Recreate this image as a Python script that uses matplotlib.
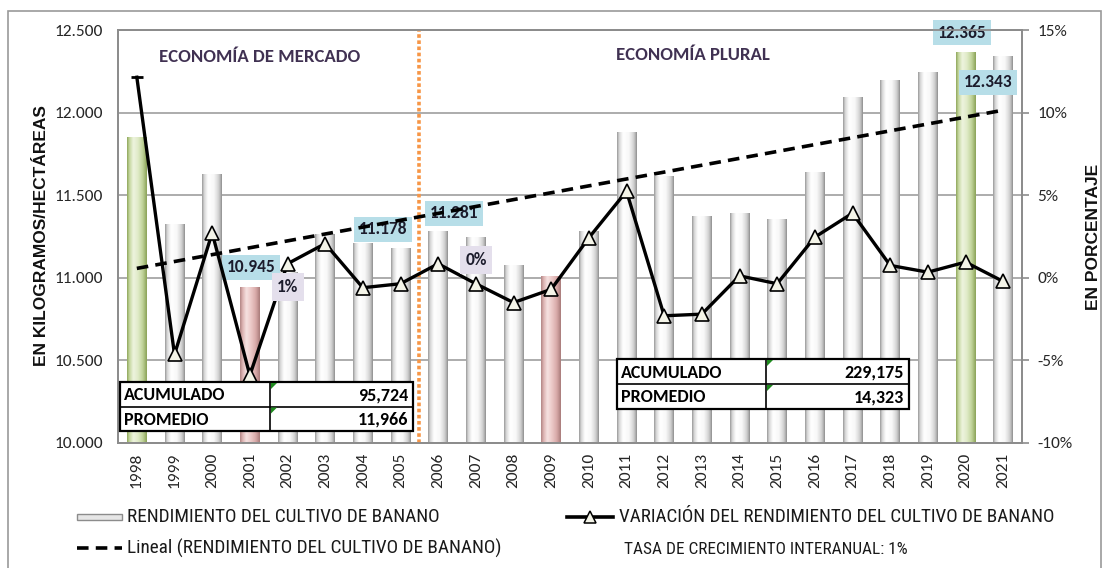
import numpy as np
import matplotlib
matplotlib.use("Agg")
import matplotlib.pyplot as plt
from matplotlib import font_manager as fm
from matplotlib.patches import Rectangle, Polygon
from matplotlib.lines import Line2D
from matplotlib.colors import LinearSegmentedColormap
from matplotlib.ticker import FuncFormatter

# ---------------- data ----------------
years = [str(y) for y in range(1998, 2022)]
rendimiento = [11852, 11323, 11629, 10945, 11038, 11266, 11210, 11178,
               11281, 11245, 11079, 11008, 11286, 11881, 11619, 11377,
               11395, 11353, 11639, 12097, 12200, 12248, 12365, 12343]
variacion = [12.14, -4.64, 2.72, -5.90, 0.85, 2.07, -0.60, -0.36,
             0.85, -0.36, -1.50, -0.70, 2.42, 5.24, -2.30, -2.20,
             0.12, -0.36, 2.46, 3.91, 0.75, 0.34, 0.95, -0.22]
green_years = ["1998", "2020"]
red_years = ["2001", "2009"]
value_labels = ["10.945", "11.178", "11.281", "12.365", "12.343"]
pct_labels = ["1%", "0%"]
periodos = ["ECONOMÍA DE MERCADO", "ECONOMÍA PLURAL"]
tabla_mercado = [("ACUMULADO", "95,724"), ("PROMEDIO", "11,966")]
tabla_plural = [("ACUMULADO", "229,175"), ("PROMEDIO", "14,323")]
left_ticks = [10000, 10500, 11000, 11500, 12000, 12500]
right_ticks = [-10, -5, 0, 5, 10, 15]
legend_labels = ["RENDIMIENTO DEL CULTIVO DE BANANO",
                 "VARIACIÓN DEL RENDIMIENTO DEL CULTIVO DE BANANO",
                 "Lineal (RENDIMIENTO DEL CULTIVO DE BANANO)"]
tasa_text = "TASA DE CRECIMIENTO INTERANUAL: 1%"
y_label_left = "EN KILOGRAMOS/HECTÁREAS"
y_label_right = "EN PORCENTAJE"

# ---------------- fonts ----------------
names = {f.name for f in fm.fontManager.ttflist}
MAIN = "Carlito" if "Carlito" in names else "Lato"
NARROW = next((n for n in ["Liberation Sans Narrow", "Roboto Condensed",
                           "Open Sans Condensed"] if n in names), MAIN)
plt.rcParams["font.family"] = [MAIN, "DejaVu Sans"]

W, H = 1105, 568
fig = plt.figure(figsize=(W / 100, H / 100), dpi=100)


def fx(px):
    return px / W


def fy(py):
    return 1 - py / H


# outer frame
fig.add_artist(Rectangle((fx(8), fy(575)), fx(1101) - fx(8), fy(11) - fy(575),
                         transform=fig.transFigure, fill=False,
                         ec="#9a9a9a", lw=1.2))

ax = fig.add_axes([fx(118), fy(443), fx(1022) - fx(118), fy(30) - fy(443)])
ax2 = ax.twinx()

x = np.arange(len(years))
bw = 0.53
ymin, ymax = 10000, 12500

cm_white = LinearSegmentedColormap.from_list(
    "w", [(0, "#969696"), (0.1, "#d6d6d6"), (0.3, "#ffffff"),
          (0.6, "#f8f8f8"), (0.82, "#d6d6d6"), (0.93, "#b4b4b4"), (1, "#8a8a8a")])
cm_green = LinearSegmentedColormap.from_list(
    "g", [(0, "#8ea65a"), (0.12, "#c6d8a0"), (0.32, "#eef4df"),
          (0.55, "#e0ebc8"), (0.8, "#bfd298"), (1, "#8aa257")])
cm_red = LinearSegmentedColormap.from_list(
    "r", [(0, "#b08483"), (0.12, "#dcb2b1"), (0.32, "#f6e2e1"),
          (0.55, "#ecc9c8"), (0.8, "#d8a9a8"), (1, "#a87b7a")])
grad = np.linspace(0, 1, 64).reshape(1, -1)

bars = ax.bar(x, rendimiento, width=bw, color="none", edgecolor="none", zorder=2)
for xi, yr, b in zip(x, years, bars):
    cm = cm_green if yr in green_years else cm_red if yr in red_years else cm_white
    top = b.get_height()
    im = ax.imshow(grad, cmap=cm, aspect="auto", interpolation="bicubic",
                   extent=(xi - bw / 2, xi + bw / 2, ymin, top), zorder=2)
    im.set_clip_path(b)

ax.set_xlim(-0.5, len(years) - 0.5)
ax.set_ylim(ymin, ymax)
ax2.set_ylim(-10, 15)
ax.set_yticks(left_ticks)
ax2.set_yticks(right_ticks)
ax.yaxis.set_major_formatter(FuncFormatter(lambda v, p: f"{int(v):,}".replace(",", ".")))
ax2.yaxis.set_major_formatter(FuncFormatter(lambda v, p: f"{int(v)}%"))
ax.set_xticks(x)
ax.set_xticklabels(years, rotation=90, fontsize=12.5, color="#262626")
ax.tick_params(axis="x", length=0, pad=7)
ax.tick_params(axis="y", length=0, pad=11, labelsize=12.5, labelcolor="#262626")
ax2.tick_params(axis="y", length=5, width=1.2, color="#8c8c8c", pad=6,
                labelsize=12.5, labelcolor="#262626")
ax.grid(axis="y", color="#a6a6a6", lw=1.3)
ax.set_axisbelow(True)
for a in (ax, ax2):
    for s in a.spines.values():
        s.set_color("#8c8c8c")
        s.set_linewidth(1.3)

# period divider
ax.axvline(7.5, color="#f79646", lw=2.6, ls=(0, (1, 0.7)), zorder=3)

# value label boxes (on ax, below trend)
val_pos = [(3.03, 11065), (6.53, 11295), (8.42, 11392), (21.9, 12482), (22.6, 12185)]
for s, (xp, yp) in zip(value_labels, val_pos):
    ax.text(xp, yp, s, ha="center", va="center", fontsize=12.5, fontweight="bold",
            color="#1c1c2c", zorder=4, clip_on=False,
            bbox=dict(boxstyle="square,pad=0.26", fc="#b7dee8", ec="none"))

# trend line
coef = np.polyfit(x, rendimiento, 1)
ax.plot(x, np.polyval(coef, x), color="black", lw=2.6, dashes=(3.2, 2.0),
        zorder=5)

# period titles
for s, (xp, yp) in zip(periodos, [(3.27, 12337), (14.76, 12349)]):
    ax.text(xp, yp, s, ha="center", va="center", fontsize=13.5,
            fontweight="bold", color="#403152", zorder=6)

# variation line
ax2.plot(x, variacion, color="black", lw=2.4, zorder=5)
ax2.plot(x[1:], variacion[1:], ls="none", marker="^", ms=10,
         mfc="#f4f4e8", mec="black", mew=1.2, zorder=6)
ax2.plot(x[0], variacion[0], ls="none", marker="_", ms=9, mew=2,
         color="black", zorder=6)

# percent labels
for s, (xp, yp) in zip(pct_labels, [(4.01, 10944), (9.0, 11108)]):
    ax2.text(xp, yp, s, transform=ax.transData, ha="center", va="center",
             fontsize=12.5, fontweight="bold", color="#1c1c2c", zorder=7,
             bbox=dict(boxstyle="square,pad=0.32", fc="#e4dfec", ec="none"))


# tables
def draw_table(rows, x0, x1, xd, y0, y1):
    n = len(rows)
    rh = (y1 - y0) / n
    fig.add_artist(Rectangle((fx(x0), fy(y1)), fx(x1) - fx(x0), fy(y0) - fy(y1),
                             transform=fig.transFigure, fc="white",
                             ec="black", lw=1.6, zorder=5))
    fig.add_artist(Line2D([fx(xd), fx(xd)], [fy(y0), fy(y1)],
                          transform=fig.transFigure, color="black", lw=1.2,
                          zorder=6))
    for i, (lab, val) in enumerate(rows):
        ytop = y0 + i * rh
        if i > 0:
            fig.add_artist(Line2D([fx(x0), fx(x1)], [fy(ytop), fy(ytop)],
                                  transform=fig.transFigure, color="black",
                                  lw=1.2, zorder=6))
        fig.add_artist(Polygon([(fx(xd + 1), fy(ytop + 1)), (fx(xd + 7), fy(ytop + 1)),
                                (fx(xd + 1), fy(ytop + 7))], closed=True,
                               transform=fig.transFigure, fc="#1f8a1f",
                               ec="none", zorder=7))
        yc = fy(ytop + rh / 2 + 1)
        fig.text(fx(x0 + 4), yc, lab, ha="left", va="center", fontsize=13,
                 fontweight="bold", color="black", zorder=7)
        fig.text(fx(x1 - 5), yc, val, ha="right", va="center", fontsize=13,
                 fontweight="bold", color="black", zorder=7)


draw_table(tabla_mercado, 120, 413, 270, 382, 431)
draw_table(tabla_plural, 617, 909, 766, 359, 409)

# axis titles
fig.text(fx(42), fy(236), y_label_left, rotation=90, ha="center", va="center",
         fontsize=12.5, fontweight="bold", family=["Liberation Sans", "DejaVu Sans"],
         color="#111111")
fig.text(fx(1093), fy(237), y_label_right, rotation=90, ha="center", va="center",
         fontsize=12.5, fontweight="bold", family=["Liberation Sans", "DejaVu Sans"],
         color="#111111")

# legend
fig.add_artist(Rectangle((fx(77), fy(520)), fx(122) - fx(77), fy(514) - fy(520),
                         transform=fig.transFigure, fc="#e6e6e6", ec="#8c8c8c",
                         lw=1.0))
fig.add_artist(Line2D([fx(567), fx(613)], [fy(517), fy(517)],
                      transform=fig.transFigure, color="black", lw=2.6))
fig.add_artist(Line2D([fx(590)], [fy(517)], transform=fig.transFigure,
                      ls="none", marker="^", ms=9, mfc="#f4f4e8", mec="black",
                      mew=1.1))
fig.add_artist(Line2D([fx(77), fx(122)], [fy(548), fy(548)],
                      transform=fig.transFigure, color="black", lw=2.6,
                      dashes=(3.2, 2.0)))

leg_specs = [(127, 517, 313), (619, 517, 436), (127, 548, 375)]
texts = []
for s, (px, py, tw) in zip(legend_labels, leg_specs):
    t = fig.text(fx(px), fy(py), s, ha="left", va="center", fontsize=13,
                 family=[NARROW, "DejaVu Sans"], color="#1a1a1a")
    texts.append((t, tw))
fig.canvas.draw()
r = fig.canvas.get_renderer()
sizes = []
for t, tw in texts:
    w = t.get_window_extent(r).width
    t.set_fontsize(13 * tw / w)
    sizes.append(13 * tw / w)
fig.text(fx(624), fy(549), tasa_text, ha="left", va="center",
         fontsize=0.9 * sizes[1], family=[NARROW, "DejaVu Sans"], color="#1a1a1a")

fig.savefig("out.png", dpi=100)
